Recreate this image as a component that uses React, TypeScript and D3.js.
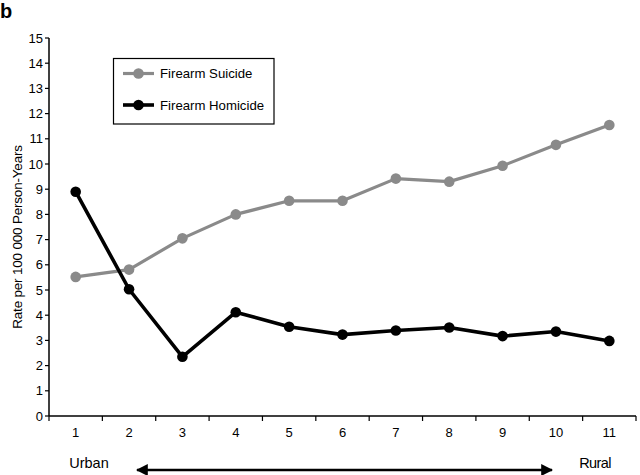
import React from "react";
import * as d3 from "d3";

const categories = ["1", "2", "3", "4", "5", "6", "7", "8", "9", "10", "11"];
const suicideValues = [5.52, 5.81, 7.05, 8.0, 8.54, 8.54, 9.42, 9.3, 9.93, 10.76, 11.55];
const homicideValues = [8.9, 5.03, 2.35, 4.12, 3.54, 3.23, 3.39, 3.51, 3.17, 3.35, 2.98];
const yTicks = [0, 1, 2, 3, 4, 5, 6, 7, 8, 9, 10, 11, 12, 13, 14, 15];
const seriesNames = ["Firearm Suicide", "Firearm Homicide"];

const W = 640;
const H = 475;
const left = 49;
const right = 636;
const top = 38;
const bottom = 416;
const FONT = "Arial, 'Liberation Sans', Helvetica, sans-serif";

export default function App() {
  const x = d3.scaleBand<string>().domain(categories).range([left, right]).padding(0);
  const y = d3.scaleLinear().domain([0, 15]).range([bottom, top]);
  const cx = (i: number) => (x(categories[i]) as number) + x.bandwidth() / 2;
  const line = d3
    .line<number>()
    .x((_, i) => cx(i))
    .y((d) => y(d));

  const series = [
    { name: seriesNames[0], values: suicideValues, color: "#8a8a8a", width: 3.2 },
    { name: seriesNames[1], values: homicideValues, color: "#000000", width: 3.6 },
  ];

  const boundaries = categories.map((c) => x(c) as number).concat([right]);

  return (
    <svg
      width={W}
      height={H}
      style={{ position: "absolute", left: 0, top: 0, background: "#fff" }}
      fontFamily={FONT}
    >
      <rect x={0} y={0} width={W} height={H} fill="#fff" />
      <text x={0} y={18} fontSize={20} fontWeight="bold" fill="#000">
        b
      </text>

      {/* y axis */}
      <line x1={left} x2={left} y1={y(15)} y2={bottom} stroke="#000" strokeWidth={1.5} />
      {yTicks.map((t) => (
        <g key={t}>
          <line x1={left - 4} x2={left} y1={y(t)} y2={y(t)} stroke="#000" strokeWidth={1.2} />
          <text x={left - 6} y={y(t)} dy="0.36em" textAnchor="end" fontSize={13} fill="#000">
            {t}
          </text>
        </g>
      ))}
      <text
        transform={`translate(17,${(top + bottom) / 2 + 10}) rotate(-90)`}
        textAnchor="middle"
        dy="0.36em"
        fontSize={13.5}
        letterSpacing={-0.2}
        fill="#000"
      >
        Rate per 100 000 Person-Years
      </text>

      {/* x axis */}
      <line x1={left} x2={right} y1={bottom} y2={bottom} stroke="#000" strokeWidth={1.5} />
      {boundaries.map((b, i) => (
        <line key={i} x1={b} x2={b} y1={bottom} y2={bottom + 5} stroke="#000" strokeWidth={1.2} />
      ))}
      {categories.map((c, i) => (
        <text key={c} x={cx(i)} y={437} textAnchor="middle" fontSize={13} fill="#000">
          {c}
        </text>
      ))}
      <text x={89} y={468} textAnchor="middle" fontSize={14.5} fill="#000">
        Urban
      </text>
      <text x={595} y={468} textAnchor="middle" fontSize={14.5} letterSpacing={-0.6} fill="#000">
        Rural
      </text>
      <defs>
        <marker id="ah" viewBox="0 0 10 10" refX="9" refY="5" markerWidth="5" markerHeight="5" orient="auto-start-reverse">
          <path d="M0,0 L10,5 L0,10 Z" fill="#000" />
        </marker>
      </defs>
      <line
        x1={137}
        x2={552}
        y1={470}
        y2={470}
        stroke="#000"
        strokeWidth={2.4}
        markerStart="url(#ah)"
        markerEnd="url(#ah)"
      />

      {/* series */}
      {series.map((s) => (
        <g key={s.name}>
          <path d={line(s.values) as string} fill="none" stroke={s.color} strokeWidth={s.width} strokeLinejoin="round" />
          {s.values.map((v, i) => (
            <circle key={i} cx={cx(i)} cy={y(v)} r={5.3} fill={s.color} />
          ))}
        </g>
      ))}

      {/* legend */}
      <rect x={113.5} y={58.5} width={160.5} height={65.5} fill="#fff" stroke="#000" strokeWidth={1.2} />
      {series.map((s, i) => {
        const ly = 73.5 + i * 31.5;
        return (
          <g key={s.name}>
            <line x1={123} x2={154} y1={ly} y2={ly} stroke={s.color} strokeWidth={s.width} />
            <circle cx={138.5} cy={ly} r={5.3} fill={s.color} />
            <text x={160} y={ly} dy="0.36em" fontSize={13.2} fill="#000">
              {s.name}
            </text>
          </g>
        );
      })}
    </svg>
  );
}
